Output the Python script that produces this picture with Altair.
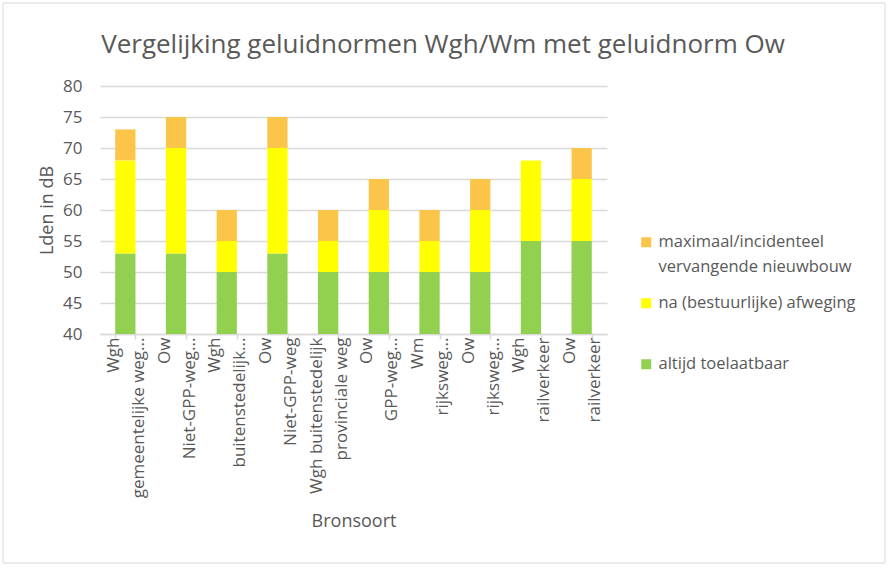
import altair as alt
import pandas as pd

categories = [
    "Wgh|gemeentelijke weg...",
    "Ow|Niet-GPP-weg...",
    "Wgh|buitenstedelijk...",
    "Ow|Niet-GPP-weg",
    "Wgh buitenstedelijk|provinciale weg",
    "Ow|GPP-weg...",
    "Wm|rijksweg...",
    "Ow|rijksweg...",
    "Wgh|railverkeer",
    "Ow|railverkeer",
]
altijd = [53, 53, 50, 53, 50, 50, 50, 50, 55, 55]
afweging = [15, 17, 5, 17, 5, 10, 5, 10, 13, 10]
maximaal = [5, 5, 5, 5, 5, 5, 5, 5, 0, 5]

series_names = [
    "maximaal/incidenteel|vervangende nieuwbouw",
    "na (bestuurlijke) afweging",
    "altijd toelaatbaar",
]
series_colors = ["#FBC54A", "#FFFF00", "#92D050"]
title_text = "Vergelijking geluidnormen Wgh/Wm met geluidnorm Ow"

rows = []
for i, c in enumerate(categories):
    rows.append({"cat": c, "series": series_names[2], "value": altijd[i], "rank": 0})
    rows.append({"cat": c, "series": series_names[1], "value": afweging[i], "rank": 1})
    rows.append({"cat": c, "series": series_names[0], "value": maximaal[i], "rank": 2})
df = pd.DataFrame(rows)

TXT = "#595959"
FONT = "Open Sans"

bars = alt.Chart(df).mark_bar(clip=True).encode(
    x=alt.X(
        "cat:N",
        sort=categories,
        scale=alt.Scale(paddingInner=0.6, paddingOuter=0.3),
        axis=alt.Axis(
            title="Bronsoort",
            labelAngle=270,
            labelAlign="right",
            labelBaseline="middle",
            labelExpr="split(datum.label, '|')",
            labelLineHeight=25,
            labelOffset=-12,
            labelFontSize=17,
            labelFont=FONT,
            labelColor=TXT,
            labelPadding=-2,
            domainColor="#D9D9D9",
            domainWidth=1.5,
            tickColor="#D9D9D9",
            tickWidth=1.5,
            tickSize=5,
            tickBand="extent",
            titleFontSize=18,
            titleFont=FONT,
            titleColor=TXT,
            titleFontWeight="normal",
            titlePadding=15,
        ),
    ),
    y=alt.Y(
        "value:Q",
        stack="zero",
        scale=alt.Scale(domain=[40, 80], nice=False, zero=False),
        axis=alt.Axis(
            title="Lden in dB",
            values=[40, 45, 50, 55, 60, 65, 70, 75, 80],
            domain=False,
            ticks=False,
            grid=True,
            gridColor="#D9D9D9",
            gridWidth=1.5,
            labelFontSize=17,
            labelFont=FONT,
            labelColor=TXT,
            labelPadding=18,
            titleFontSize=18,
            titleFont=FONT,
            titleColor=TXT,
            titleFontWeight="normal",
            titlePadding=6,
        ),
    ),
    color=alt.Color(
        "series:N",
        scale=alt.Scale(domain=series_names, range=series_colors),
        legend=alt.Legend(
            title=None,
            orient="none",
            legendX=538,
            legendY=148,
            symbolType="square",
            symbolSize=100,
            symbolStrokeWidth=0,
            labelFontSize=16.5,
            labelFont=FONT,
            labelColor=TXT,
            labelExpr="split(datum.label, '|')",
            labelLimit=300,
            gridAlign="all",
            rowPadding=19,
        ),
    ),
    order=alt.Order("rank:Q", sort="ascending"),
)

border = alt.Chart(pd.DataFrame({"a": [0]})).mark_rect(
    filled=False, stroke="#D9D9D9", strokeWidth=1
).encode(
    x=alt.value(-97), x2=alt.value(785), y=alt.value(-83), y2=alt.value(477)
)

title = alt.Chart(pd.DataFrame({"t": [title_text]})).mark_text(
    font=FONT, fontSize=26, color=TXT, align="center", baseline="alphabetic"
).encode(
    text="t:N", x=alt.value(343), y=alt.value(-33)
)

chart = alt.layer(border, bars, title).properties(
    width=507,
    height=248,
    padding={"left": 100, "top": 86, "right": 283, "bottom": 234},
    autosize=alt.AutoSizeParams(type="none"),
    background="white",
).configure(
    style={"guide-label": {"lineHeight": 25}},
    view={"stroke": None},
)

chart.save("out.html", embed_options={"renderer": "svg", "actions": False})
